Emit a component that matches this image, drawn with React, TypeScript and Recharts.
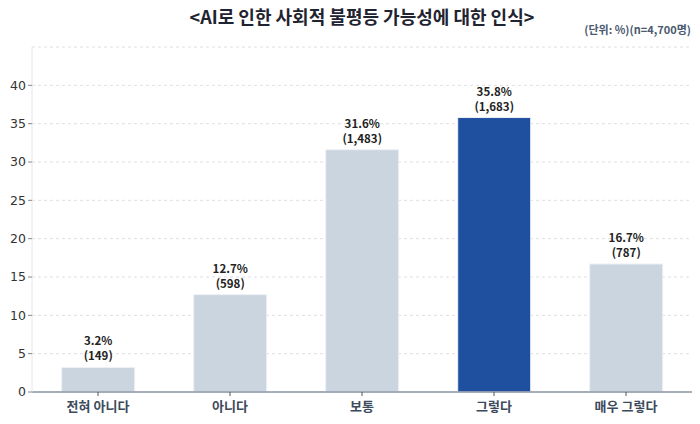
import React from "react";
import { BarChart, Bar, XAxis, YAxis, CartesianGrid, Cell, LabelList } from "recharts";

const categories = ["전혀 아니다", "아니다", "보통", "그렇다", "매우 그렇다"];
const percents = [3.2, 12.7, 31.6, 35.8, 16.7];
const counts = [149, 598, 1483, 1683, 787];
const highlight = "그렇다";
const yTicks = [0, 5, 10, 15, 20, 25, 30, 35, 40];

const data = categories.map((name, i) => ({ name, pct: percents[i], n: counts[i] }));

const FONT = "'Noto Sans CJK KR', 'Noto Sans', sans-serif";

function ValueLabel(props: any) {
  const { x, y, width, index } = props;
  const cx = x + width / 2;
  return (
    <text x={cx} textAnchor="middle" fontFamily={FONT} fontSize={11.5} fontWeight={700} fill="#222">
      <tspan x={cx} y={y - 22}>{percents[index].toFixed(1)}%</tspan>
      <tspan x={cx} y={y - 7}>({counts[index].toLocaleString("en-US")})</tspan>
    </text>
  );
}

export default function App() {
  return (
    <div style={{ position: "absolute", left: 0, top: 0, width: 700, height: 424, background: "#fff" }}>
      <div
        style={{
          position: "absolute",
          left: 32,
          width: 660,
          top: 3,
          textAlign: "center",
          fontFamily: FONT,
          fontWeight: 700,
          fontSize: 18,
          color: "#1f2430",
        }}
      >
        &lt;AI로 인한 사회적 불평등 가능성에 대한 인식&gt;
      </div>
      <div
        style={{
          position: "absolute",
          right: 9,
          top: 21,
          fontFamily: FONT,
          fontWeight: 700,
          fontSize: 11,
          color: "#4a5a70",
        }}
      >
        (단위: %)(n=4,700명)
      </div>
      <BarChart
        width={700}
        height={424}
        data={data}
        margin={{ top: 47, right: 8, left: 0, bottom: 0 }}
        barCategoryGap="22.5%"
      >
        <CartesianGrid vertical={false} stroke="#dcdfe4" strokeDasharray="3 3" />
        <XAxis
          dataKey="name"
          height={32}
          axisLine={{ stroke: "#8c96a6", strokeWidth: 1.5 }}
          tickLine={{ stroke: "#555" }}
          tickSize={4}
          tickMargin={6}
          tick={{ fontFamily: FONT, fontSize: 13, fontWeight: 700, fill: "#3d4a5c" }}
        />
        <YAxis
          width={32}
          domain={[0, 45]}
          ticks={yTicks}
          axisLine={{ stroke: "#e2e6ec" }}
          tickLine={{ stroke: "#888" }}
          tickSize={4}
          tick={{ fontFamily: "'DejaVu Sans', sans-serif", fontSize: 12.5, fill: "#333" }}
        />
        <Bar dataKey="pct" isAnimationActive={false} stroke="#eef1f5" strokeWidth={1}>
          {data.map((d) => (
            <Cell key={d.name} fill={d.name === highlight ? "#1f4f9f" : "#cbd5e0"} />
          ))}
          <LabelList dataKey="pct" content={<ValueLabel />} />
        </Bar>
      </BarChart>
    </div>
  );
}
